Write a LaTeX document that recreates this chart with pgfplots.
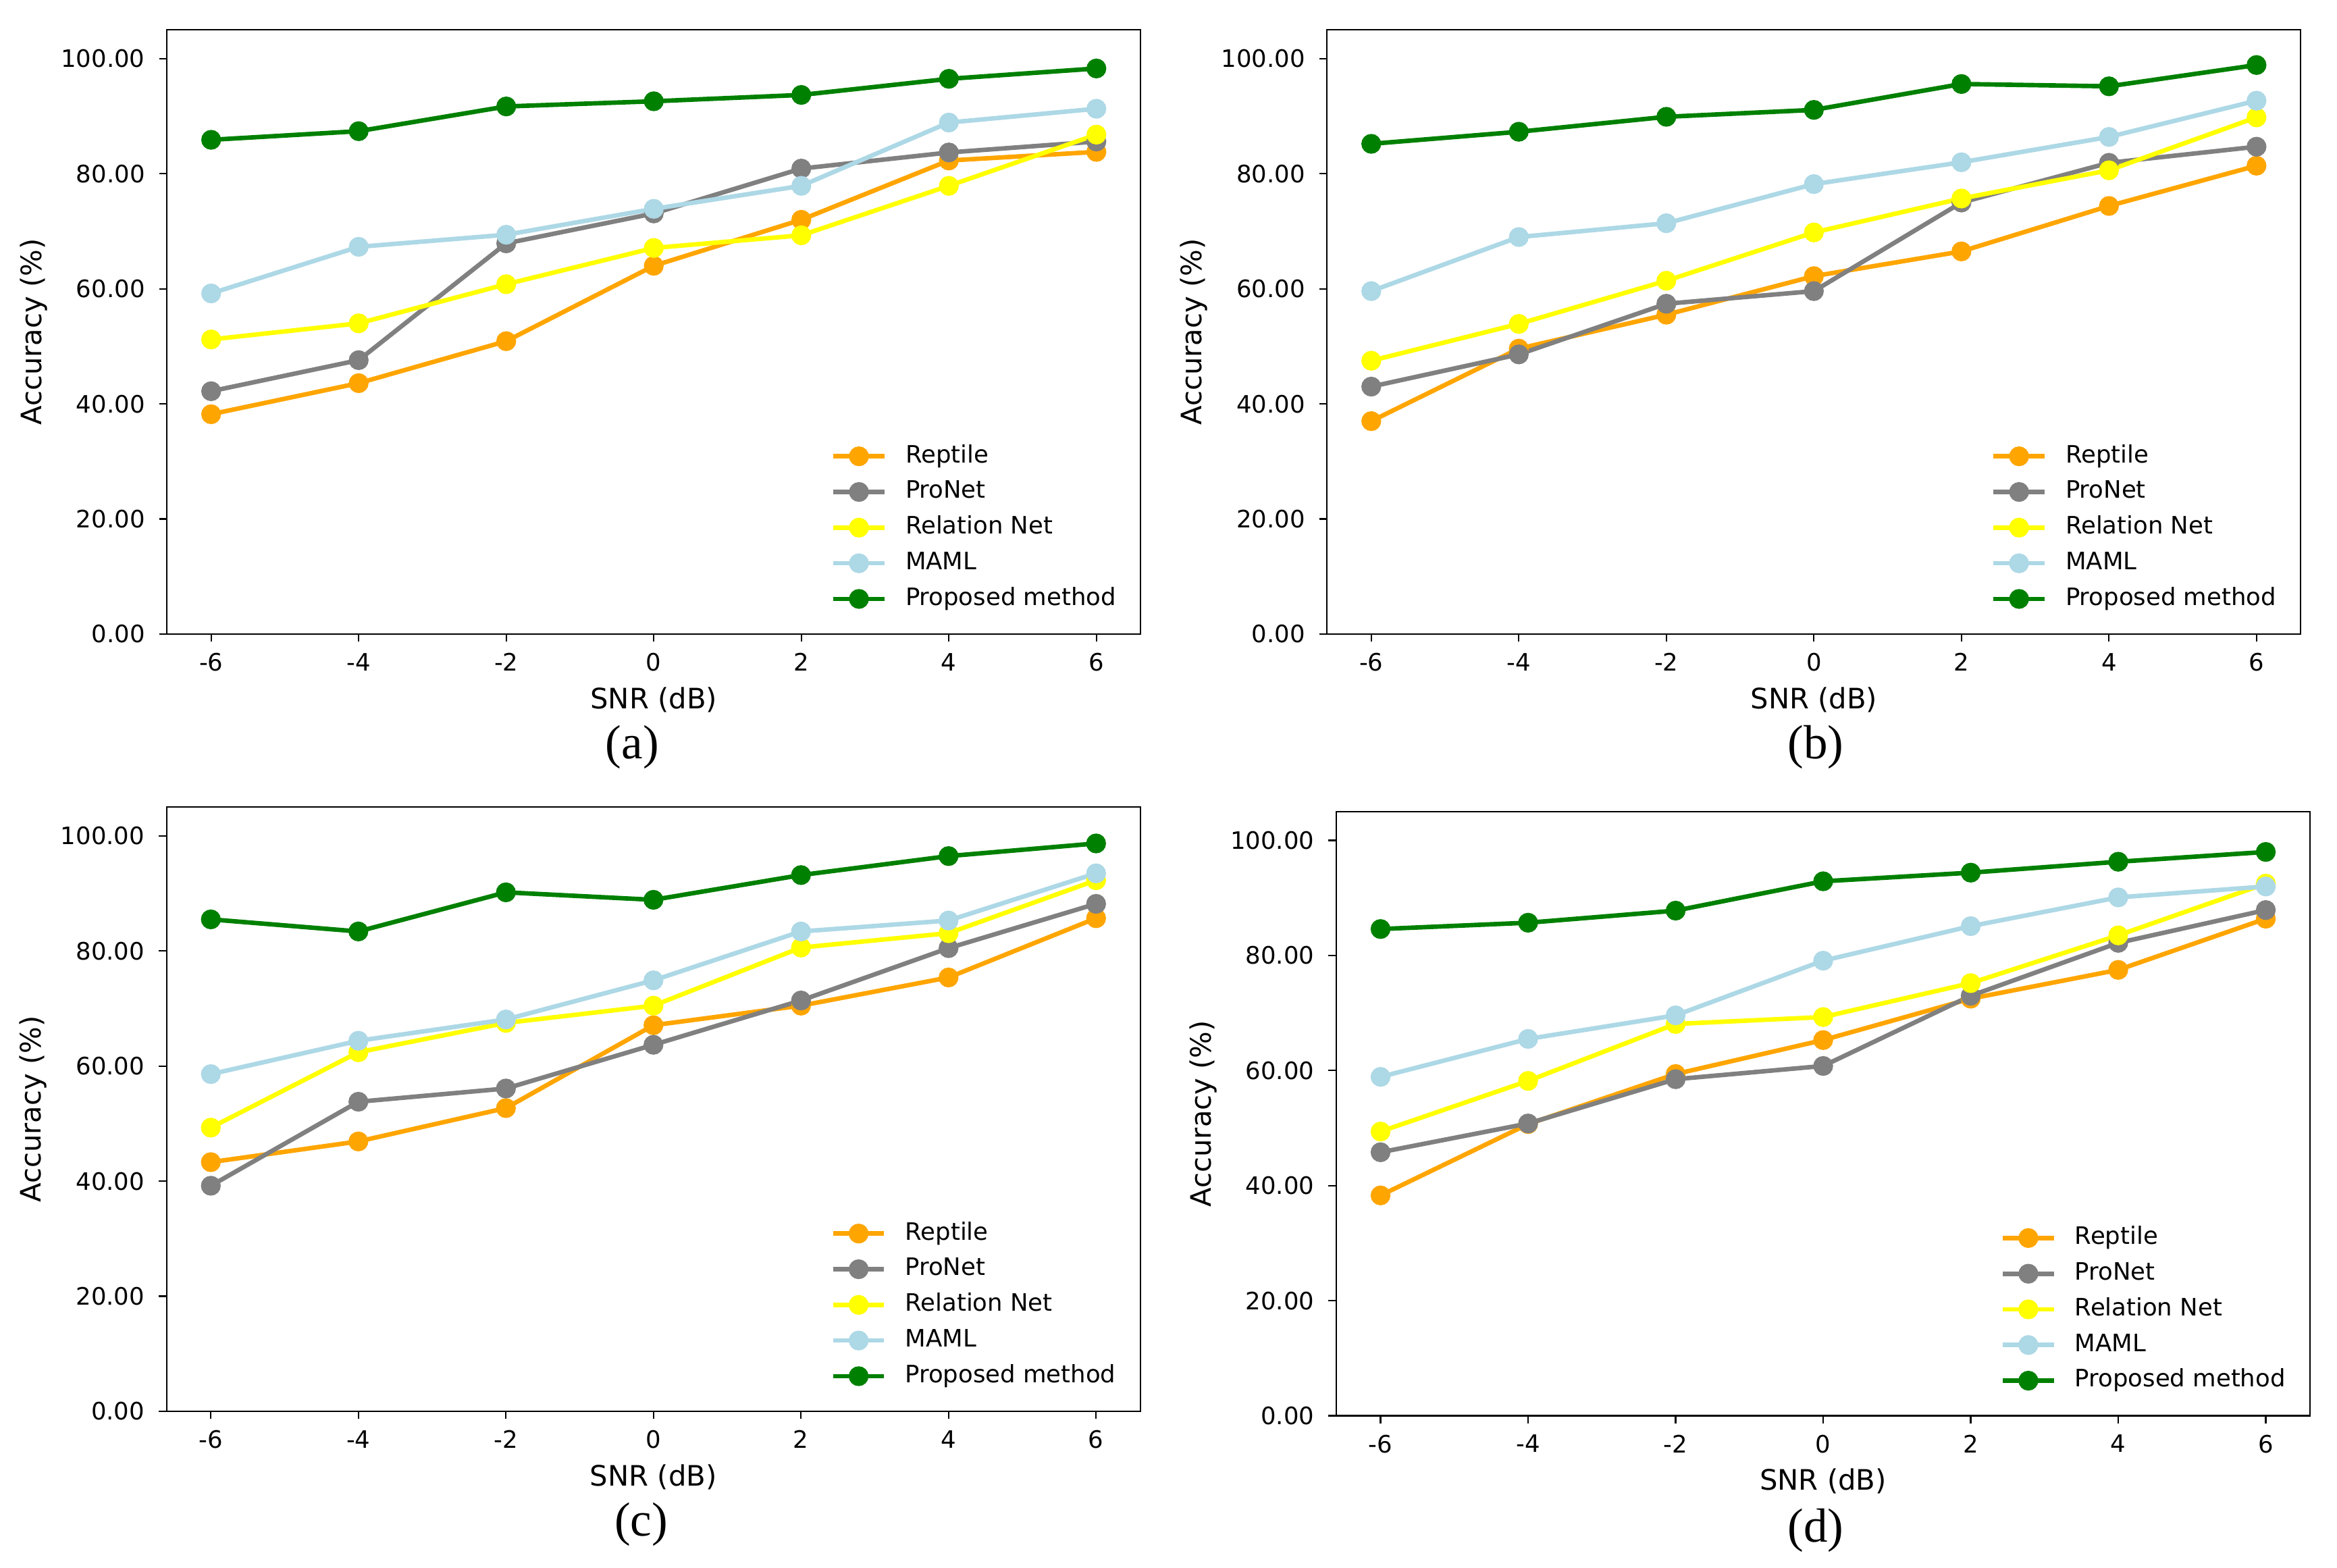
\documentclass[border=0pt]{standalone}
\usepackage{fontspec}
\setmainfont{DejaVu Sans}
\newfontfamily\serif{Liberation Serif}
\usepackage{pgfplots}
\pgfplotsset{compat=1.18}
\usepackage{pgfplotstable}
\definecolor{cRep}{HTML}{FFA500}
\definecolor{cPro}{HTML}{808080}
\definecolor{cRel}{HTML}{FFFF00}
\definecolor{cMaml}{HTML}{ADD8E6}
\definecolor{cProp}{HTML}{008000}

\pgfplotstableread{
snr rep pro rel maml prop
-6 38.2 42.2 51.2 59.2 85.9
-4 43.6 47.6 54.0 67.3 87.4
-2 50.9 67.9 60.8 69.4 91.7
0 64.0 73.1 67.1 73.9 92.6
2 72.0 80.9 69.3 77.9 93.7
4 82.3 83.7 77.9 88.9 96.5
6 83.8 85.6 86.8 91.3 98.3
}\tabA
\pgfplotstableread{
snr rep pro rel maml prop
-6 37.0 43.0 47.5 59.6 85.2
-4 49.6 48.6 53.9 69.0 87.3
-2 55.5 57.4 61.4 71.4 89.9
0 62.2 59.6 69.8 78.2 91.1
2 66.5 75.0 75.7 82.0 95.6
4 74.4 81.9 80.6 86.4 95.2
6 81.4 84.7 89.8 92.7 98.9
}\tabB
\pgfplotstableread{
snr rep pro rel maml prop
-6 43.3 39.2 49.3 58.6 85.5
-4 46.9 53.8 62.4 64.4 83.4
-2 52.7 56.1 67.5 68.1 90.2
0 67.1 63.7 70.5 74.9 88.9
2 70.5 71.4 80.6 83.4 93.2
4 75.4 80.5 83.1 85.3 96.5
6 85.7 88.2 92.3 93.5 98.7
}\tabC
\pgfplotstableread{
snr rep pro rel maml prop
-6 38.3 45.8 49.4 58.9 84.6
-4 50.7 50.8 58.2 65.5 85.7
-2 59.4 58.5 68.1 69.6 87.8
0 65.3 60.8 69.3 79.1 92.9
2 72.5 73.0 75.2 85.1 94.4
4 77.5 82.2 83.5 90.1 96.3
6 86.4 87.9 92.5 92.0 98.0
}\tabD

\pgfplotsset{
 panel/.style={
  scale only axis, width=325pt, height=201.6pt,
  xmin=-6.6, xmax=6.6, ymin=0, ymax=105,
  xtick={-6,-4,-2,0,2,4,6}, xticklabels={-6,-4,-2,0,2,4,6},
  ytick={0,20,40,60,80,100}, yticklabels={0.00,20.00,40.00,60.00,80.00,100.00},
  tick align=outside, xtick pos=left, ytick pos=left,
  major tick length=2.6pt,
  every tick/.style={black, line width=0.5pt},
  axis line style={black, line width=0.5pt},
  /pgf/number format/assume math mode=true,
  ticklabel style={font=\fontsize{8}{9.6}\selectfont},
  xticklabel style={yshift=-0.3pt},
  yticklabel style={xshift=-1.2pt},
  every axis x label/.style={at={([yshift=-21.9pt]axis description cs:0.5,0)}, anchor=center, font=\fontsize{9.4}{11}\selectfont},
  every axis y label/.style={at={([xshift=-44.5pt]axis description cs:0,0.5)}, anchor=center, rotate=90, font=\fontsize{9.4}{11}\selectfont},
  xlabel={SNR (dB)}, ylabel={Accuracy (\%)},
  legend style={draw=none, fill=none, at={(1,0)}, anchor=south east, xshift=-8pt, yshift=7.8pt,
    inner sep=0pt, row sep=4.5pt, column sep=6.3pt, font=\fontsize{8}{9.6}\selectfont,
    nodes={inner sep=0pt, text height=5.8pt, text depth=1.6pt}},
  legend cell align=left,
  legend image code/.code={\draw[mark repeat=2,mark phase=2] plot coordinates {(0pt,0pt) (8.5pt,0pt) (17pt,0pt)};},
  every axis plot/.append style={line width=1.5pt, mark=*, mark size=2.55pt, mark options={solid}},
 }
}

\begin{document}
\begin{tikzpicture}
\useasboundingbox (0,0) rectangle (780pt,523.3pt);

\begin{axis}[panel, at={(55.7pt,311.7pt)}, anchor=south west]
\addplot[color=cRep] table[x=snr,y=rep]{\tabA}; \addlegendentry{Reptile}
\addplot[color=cPro] table[x=snr,y=pro]{\tabA}; \addlegendentry{ProNet}
\addplot[color=cRel] table[x=snr,y=rel]{\tabA}; \addlegendentry{Relation Net}
\addplot[color=cMaml] table[x=snr,y=maml]{\tabA}; \addlegendentry{MAML}
\addplot[color=cProp] table[x=snr,y=prop]{\tabA}; \addlegendentry{Proposed method}
\end{axis}

\begin{axis}[panel, at={(442.9pt,311.7pt)}, anchor=south west]
\addplot[color=cRep] table[x=snr,y=rep]{\tabB}; \addlegendentry{Reptile}
\addplot[color=cPro] table[x=snr,y=pro]{\tabB}; \addlegendentry{ProNet}
\addplot[color=cRel] table[x=snr,y=rel]{\tabB}; \addlegendentry{Relation Net}
\addplot[color=cMaml] table[x=snr,y=maml]{\tabB}; \addlegendentry{MAML}
\addplot[color=cProp] table[x=snr,y=prop]{\tabB}; \addlegendentry{Proposed method}
\end{axis}

\begin{axis}[panel, at={(55.6pt,52.3pt)}, anchor=south west]
\addplot[color=cRep] table[x=snr,y=rep]{\tabC}; \addlegendentry{Reptile}
\addplot[color=cPro] table[x=snr,y=pro]{\tabC}; \addlegendentry{ProNet}
\addplot[color=cRel] table[x=snr,y=rel]{\tabC}; \addlegendentry{Relation Net}
\addplot[color=cMaml] table[x=snr,y=maml]{\tabC}; \addlegendentry{MAML}
\addplot[color=cProp] table[x=snr,y=prop]{\tabC}; \addlegendentry{Proposed method}
\end{axis}

\begin{axis}[panel, at={(446.0pt,50.8pt)}, anchor=south west]
\addplot[color=cRep] table[x=snr,y=rep]{\tabD}; \addlegendentry{Reptile}
\addplot[color=cPro] table[x=snr,y=pro]{\tabD}; \addlegendentry{ProNet}
\addplot[color=cRel] table[x=snr,y=rel]{\tabD}; \addlegendentry{Relation Net}
\addplot[color=cMaml] table[x=snr,y=maml]{\tabD}; \addlegendentry{MAML}
\addplot[color=cProp] table[x=snr,y=prop]{\tabD}; \addlegendentry{Proposed method}
\end{axis}

\node[font=\serif\fontsize{16}{19}\selectfont] at (211pt,274pt) {(a)};
\node[font=\serif\fontsize{16}{19}\selectfont] at (606pt,274pt) {(b)};
\node[font=\serif\fontsize{16}{19}\selectfont] at (214pt,14.5pt) {(c)};
\node[font=\serif\fontsize{16}{19}\selectfont] at (606pt,12.5pt) {(d)};
\end{tikzpicture}
\end{document}
